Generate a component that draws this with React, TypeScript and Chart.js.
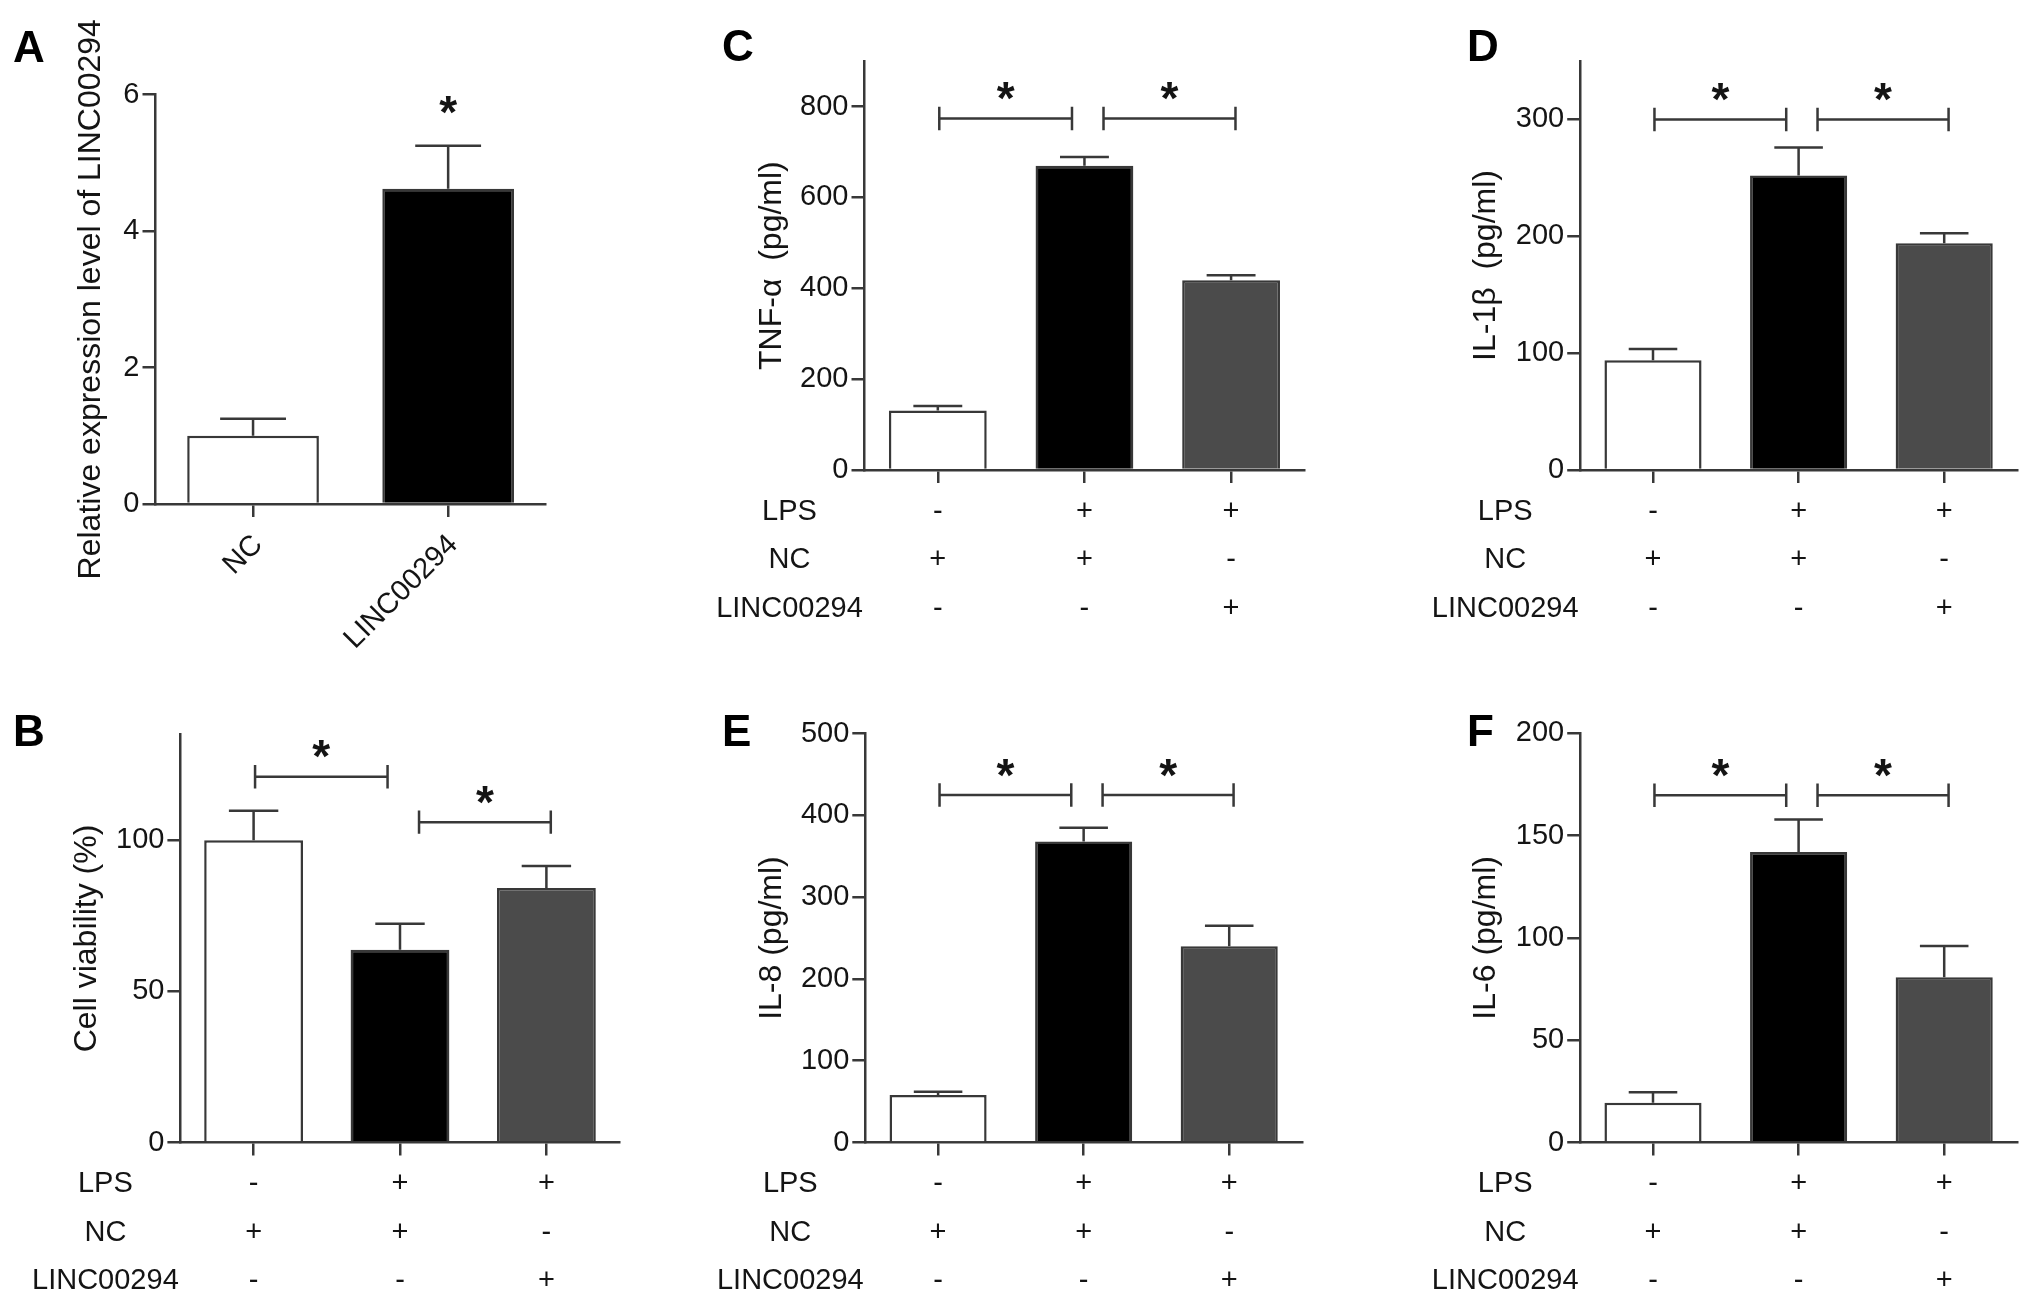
import React, { useEffect, useRef } from 'react';
import { Chart, registerables } from 'chart.js';

Chart.register(...registerables);

const FONT = '"Liberation Sans", Arial, Helvetica, sans-serif';
const INK = '#141414';
const LINE = '#383838';
const LW = 2.5;
const TICK_FONT = 29;
const TITLE_FONT = 32;
const TITLE_LH = TITLE_FONT * 1.2;
const ROW_LH = 48.5;
const X_TICK_LEN = 13;
const X_TICK_PAD = 4.5;
const STAR_FONT = 46;
const STAR_GAP = 31;
const LETTER_FONT = 44;
const ROW_TITLE_OFFSET = 75;
const BRACKET_INSETS = [[0.01, -0.085], [0.13, 0.03]];
const BRACKET_TICK = 11.7;
const FILLS = ['#ffffff', '#000000', '#4b4b4b'];

// ---------- data ----------
const aCategories = ['NC', 'LINC00294'];
const aMeans = [1.0, 4.62];
const aErrors = [0.25, 0.63];
const aTicks = [0, 2, 4, 6];
const aStarLevels = [null, 5.9];

const rowTitles = ['LPS', 'NC', 'LINC00294'];
const lpsRow = ['-', '+', '+'];
const ncRow = ['+', '+', '-'];
const lincRow = ['-', '-', '+'];
const bracketPairs = [[0, 1], [1, 2]];

const bMeans = [100, 63.8, 84.2];
const bErrors = [9.8, 8.6, 7.3];
const bTicks = [0, 50, 100];
const bBracketLevels = [121, 106];

const cMeans = [131, 670, 418];
const cErrors = [10, 19, 11];
const cTicks = [0, 200, 400, 600, 800];
const cBracketLevels = [774, 774];

const dMeans = [94, 252, 194];
const dErrors = [9.6, 24, 8.5];
const dTicks = [0, 100, 200, 300];
const dBracketLevels = [300, 300];

const eMeans = [58, 368, 240];
const eErrors = [4, 17, 25];
const eTicks = [0, 100, 200, 300, 400, 500];
const eBracketLevels = [425, 425];

const fMeans = [19.4, 142, 80.7];
const fErrors = [5.2, 15.8, 15.3];
const fTicks = [0, 50, 100, 150, 200];
const fBracketLevels = [169.7, 169.7];

const groupLabels = [0, 1, 2].map((i) => [lpsRow[i], ncRow[i], lincRow[i]]);

type Spec = {
  box: number[];
  axisX: number;
  areaTop: number;
  areaBottom: number;
  areaRight: number;
  titleX: number;
  letter: string;
  letterX: number;
  letterBaseline: number;
  labels: any[];
  means: number[];
  errors: number[];
  yMax: number;
  yTicks: number[];
  title: string;
  bracketLevels: number[] | null;
  starLevels: (number | null)[] | null;
  rows: boolean;
  barPct: number;
};

const specs: Spec[] = [
  {
    box: [0, 0, 680, 653], axisX: 155.5, areaTop: 94.5, areaBottom: 504, areaRight: 545.7, titleX: 91,
    letter: 'A', letterX: 13, letterBaseline: 62,
    labels: aCategories, means: aMeans, errors: aErrors, yMax: 6, yTicks: aTicks,
    title: 'Relative expression level of LINC00294', bracketLevels: null, starLevels: aStarLevels, rows: false, barPct: 0.675,
  },
  {
    box: [680, 0, 700, 653], axisX: 864.5, areaTop: 61.2, areaBottom: 470, areaRight: 1304.4, titleX: 772,
    letter: 'C', letterX: 722, letterBaseline: 61,
    labels: groupLabels, means: cMeans, errors: cErrors, yMax: 900, yTicks: cTicks,
    title: 'TNF-\u03b1  (pg/ml)', bracketLevels: cBracketLevels, starLevels: null, rows: true, barPct: 0.667,
  },
  {
    box: [1380, 0, 651, 653], axisX: 1580.2, areaTop: 61, areaBottom: 470, areaRight: 2017, titleX: 1486,
    letter: 'D', letterX: 1467, letterBaseline: 61,
    labels: groupLabels, means: dMeans, errors: dErrors, yMax: 350, yTicks: dTicks,
    title: 'IL-1\u03b2  (pg/ml)', bracketLevels: dBracketLevels, starLevels: null, rows: true, barPct: 0.667,
  },
  {
    box: [0, 653, 680, 654], axisX: 180.4, areaTop: 734.5, areaBottom: 1142.5, areaRight: 619.6, titleX: 87,
    letter: 'B', letterX: 13, letterBaseline: 746,
    labels: groupLabels, means: bMeans, errors: bErrors, yMax: 135, yTicks: bTicks,
    title: 'Cell viability (%)', bracketLevels: bBracketLevels, starLevels: null, rows: true, barPct: 0.675,
  },
  {
    box: [680, 653, 700, 654], axisX: 865.3, areaTop: 733.6, areaBottom: 1142.5, areaRight: 1302, titleX: 772,
    letter: 'E', letterX: 722, letterBaseline: 746,
    labels: groupLabels, means: eMeans, errors: eErrors, yMax: 500, yTicks: eTicks,
    title: 'IL-8 (pg/ml)', bracketLevels: eBracketLevels, starLevels: null, rows: true, barPct: 0.667,
  },
  {
    box: [1380, 653, 651, 654], axisX: 1580.2, areaTop: 733.2, areaBottom: 1142.5, areaRight: 2017, titleX: 1486,
    letter: 'F', letterX: 1467, letterBaseline: 746,
    labels: groupLabels, means: fMeans, errors: fErrors, yMax: 200, yTicks: fTicks,
    title: 'IL-6 (pg/ml)', bracketLevels: fBracketLevels, starLevels: null, rows: true, barPct: 0.667,
  },
];

function drawStar(ctx: CanvasRenderingContext2D, x: number, centerY: number) {
  ctx.save();
  ctx.fillStyle = INK;
  ctx.font = `bold ${STAR_FONT}px ${FONT}`;
  ctx.textAlign = 'center';
  ctx.textBaseline = 'alphabetic';
  ctx.fillText('*', x, centerY + STAR_FONT * 0.58);
  ctx.restore();
}

function makeOverlay(spec: Spec) {
  return {
    id: 'overlay' + spec.letter,
    afterDatasetsDraw(chart: any) {
      const ctx: CanvasRenderingContext2D = chart.ctx;
      const xs = chart.scales.x;
      const ys = chart.scales.y;
      const meta = chart.getDatasetMeta(0);
      ctx.save();
      ctx.strokeStyle = LINE;
      ctx.lineWidth = LW;
      ctx.lineCap = 'butt';
      // error bars (upper only)
      spec.errors.forEach((err, i) => {
        const el: any = meta.data[i];
        const topPx = ys.getPixelForValue(spec.means[i] + err);
        const half = el.width / 4;
        ctx.beginPath();
        ctx.moveTo(el.x, el.y);
        ctx.lineTo(el.x, topPx);
        ctx.moveTo(el.x - half, topPx);
        ctx.lineTo(el.x + half, topPx);
        ctx.stroke();
      });
      // significance brackets
      if (spec.bracketLevels) {
        const catW = xs.getPixelForValue(1) - xs.getPixelForValue(0);
        spec.bracketLevels.forEach((lvl, k) => {
          const [i0, i1] = bracketPairs[k];
          const x0 = xs.getPixelForValue(i0) + BRACKET_INSETS[k][0] * catW;
          const x1 = xs.getPixelForValue(i1) + BRACKET_INSETS[k][1] * catW;
          const yy = ys.getPixelForValue(lvl);
          ctx.beginPath();
          ctx.moveTo(x0, yy);
          ctx.lineTo(x1, yy);
          ctx.moveTo(x0, yy - BRACKET_TICK);
          ctx.lineTo(x0, yy + BRACKET_TICK);
          ctx.moveTo(x1, yy - BRACKET_TICK);
          ctx.lineTo(x1, yy + BRACKET_TICK);
          ctx.stroke();
          drawStar(ctx, (x0 + x1) / 2, yy - STAR_GAP);
        });
      }
      if (spec.starLevels) {
        spec.starLevels.forEach((lvl, i) => {
          if (lvl == null) return;
          drawStar(ctx, xs.getPixelForValue(i), ys.getPixelForValue(lvl));
        });
      }
      ctx.restore();
    },
    afterDraw(chart: any) {
      const ctx: CanvasRenderingContext2D = chart.ctx;
      const area = chart.chartArea;
      ctx.save();
      ctx.fillStyle = INK;
      if (spec.rows) {
        ctx.font = `${TICK_FONT}px ${FONT}`;
        ctx.textAlign = 'center';
        ctx.textBaseline = 'middle';
        rowTitles.forEach((t, r) => {
          const y = area.bottom + X_TICK_LEN + X_TICK_PAD + ROW_LH / 2 + r * ROW_LH;
          ctx.fillText(t, area.left - ROW_TITLE_OFFSET, y);
        });
      }
      ctx.font = `bold ${LETTER_FONT}px ${FONT}`;
      ctx.textAlign = 'left';
      ctx.textBaseline = 'alphabetic';
      ctx.fillStyle = '#000';
      ctx.fillText(spec.letter, spec.letterX - spec.box[0], spec.letterBaseline - spec.box[1]);
      ctx.restore();
    },
  };
}

function buildConfig(spec: Spec): any {
  const [cl, ct, cw, ch] = spec.box;
  const padLeft = spec.titleX - cl - TITLE_LH / 2;
  const yWidth = spec.axisX - cl - padLeft;
  const padTop = spec.areaTop - ct;
  const padRight = cl + cw - spec.areaRight;
  const xHeight = ct + ch - spec.areaBottom;
  const rotated = !spec.rows;
  return {
    type: 'bar',
    data: {
      labels: spec.labels,
      datasets: [
        {
          data: spec.means,
          backgroundColor: FILLS.slice(0, spec.means.length),
          borderColor: LINE,
          borderWidth: LW,
          barPercentage: spec.barPct,
          categoryPercentage: 1,
        },
      ],
    },
    options: {
      responsive: false,
      devicePixelRatio: 1,
      animation: false,
      events: [],
      layout: { padding: { left: padLeft, top: padTop, right: padRight, bottom: 0 } },
      plugins: { legend: { display: false }, tooltip: { enabled: false }, title: { display: false } },
      scales: {
        x: {
          type: 'category',
          offset: true,
          afterFit: (s: any) => { s.height = xHeight; },
          grid: {
            offset: false,
            drawOnChartArea: false,
            drawTicks: true,
            tickLength: X_TICK_LEN,
            color: LINE,
            lineWidth: LW,
          },
          border: { display: true, color: LINE, width: LW },
          ticks: rotated
            ? {
                autoSkip: false,
                minRotation: 45,
                maxRotation: 45,
                padding: 11,
                labelOffset: 5,
                color: INK,
                font: { family: FONT, size: TICK_FONT },
              }
            : {
                autoSkip: false,
                maxRotation: 0,
                minRotation: 0,
                padding: X_TICK_PAD,
                color: INK,
                font: { family: FONT, size: TICK_FONT, lineHeight: ROW_LH + 'px' },
              },
        },
        y: {
          type: 'linear',
          min: 0,
          max: spec.yMax,
          afterFit: (s: any) => { s.width = yWidth; },
          afterBuildTicks: (s: any) => { s.ticks = spec.yTicks.map((v) => ({ value: v })); },
          grid: {
            drawOnChartArea: false,
            drawTicks: true,
            tickLength: 13,
            color: LINE,
            lineWidth: LW,
          },
          border: { display: true, color: LINE, width: LW },
          ticks: {
            padding: 3,
            color: INK,
            font: { family: FONT, size: TICK_FONT },
          },
          title: {
            display: true,
            text: spec.title,
            color: INK,
            padding: 0,
            font: { family: FONT, size: TITLE_FONT, lineHeight: 1.2 },
          },
        },
      },
    },
    plugins: [makeOverlay(spec)],
  };
}

function Panel({ spec }: { spec: Spec }) {
  const ref = useRef<HTMLCanvasElement>(null);
  useEffect(() => {
    const chart = new Chart(ref.current as HTMLCanvasElement, buildConfig(spec));
    return () => chart.destroy();
  }, [spec]);
  const [l, t, w, h] = spec.box;
  return (
    <canvas
      ref={ref}
      width={w}
      height={h}
      style={{ position: 'absolute', left: l, top: t, width: w, height: h }}
    />
  );
}

export default function App() {
  return (
    <div
      style={{
        position: 'absolute',
        left: 0,
        top: 0,
        width: 2031,
        height: 1307,
        background: '#ffffff',
        overflow: 'hidden',
      }}
    >
      {specs.map((s) => (
        <Panel key={s.letter} spec={s} />
      ))}
    </div>
  );
}
